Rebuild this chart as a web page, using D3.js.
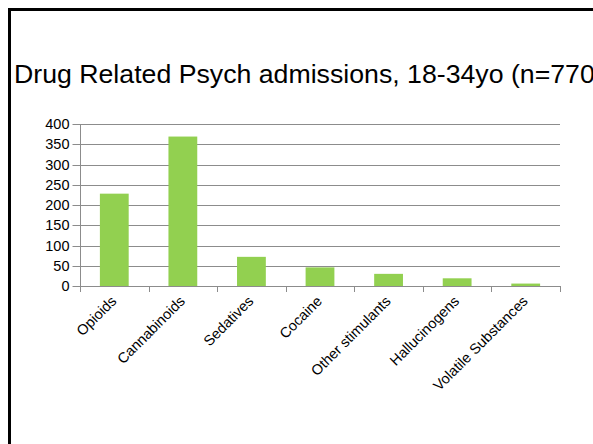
<!DOCTYPE html>
<html>
<head>
<meta charset="utf-8">
<script src="https://cdn.jsdelivr.net/npm/d3@7"></script>
<style>
  html, body { margin: 0; padding: 0; background: #fff; overflow: hidden; }
  svg { display: block; font-family: Arial, "Liberation Sans", sans-serif; }
</style>
</head>
<body>
<svg id="chart" width="593" height="444"></svg>
<script>
// Admissions by substance class
const categories = ["Opioids", "Cannabinoids", "Sedatives", "Cocaine", "Other stimulants", "Hallucinogens", "Volatile Substances"];
const admissions = [228, 369, 72, 46, 30, 19, 6];
const yTicks = [0, 50, 100, 150, 200, 250, 300, 350, 400];
const title = "Drug Related Psych admissions, 18-34yo (n=770)";

const svg = d3.select("#chart");
const labelSize = 14.5;

// Slide frame
svg.append("rect")
  .attr("x", 9.5).attr("y", 9.5)
  .attr("width", 700).attr("height", 600)
  .attr("fill", "none").attr("stroke", "#000").attr("stroke-width", 3);

svg.append("text")
  .attr("x", 14).attr("y", 83)
  .attr("font-size", 26.7)
  .attr("fill", "#000")
  .text(title);

const plot = { left: 80, right: 560, top: 124, bottom: 286 };

const x = d3.scaleBand().domain(categories).range([plot.left, plot.right]).paddingInner(0.58).paddingOuter(0.29);
const xBand = d3.scaleBand().domain(categories).range([plot.left, plot.right]);
const y = d3.scaleLinear().domain([0, 400]).range([plot.bottom, plot.top]);

// Horizontal gridlines
svg.append("g")
  .selectAll("line")
  .data(yTicks.filter(d => d > 0))
  .join("line")
  .attr("x1", plot.left).attr("x2", plot.right)
  .attr("y1", d => Math.round(y(d)) + 0.5).attr("y2", d => Math.round(y(d)) + 0.5)
  .attr("stroke", "#8c8c8c").attr("stroke-width", 1);

// Bars
svg.append("g")
  .selectAll("rect")
  .data(categories)
  .join("rect")
  .attr("x", d => x(d))
  .attr("width", x.bandwidth())
  .attr("y", (d, i) => y(admissions[i]))
  .attr("height", (d, i) => plot.bottom - y(admissions[i]))
  .attr("fill", "#92d050");

// Y axis
const yAxis = svg.append("g")
  .attr("transform", `translate(${plot.left + 0.5},0)`)
  .call(d3.axisLeft(y).tickValues(yTicks).tickSize(8).tickPadding(3));
yAxis.select(".domain").attr("stroke", "#8c8c8c").attr("d", `M0,${plot.top}V${plot.bottom}`);
yAxis.selectAll(".tick line").attr("stroke", "#8c8c8c");
yAxis.selectAll(".tick text").attr("font-size", labelSize).attr("fill", "#000").attr("font-family", "Arial, 'Liberation Sans', sans-serif");
yAxis.selectAll(".tick").attr("transform", d => `translate(0,${Math.round(y(d)) + 0.5})`);

// X axis: baseline and boundary ticks
const xg = svg.append("g");
xg.append("line")
  .attr("x1", plot.left).attr("x2", plot.right)
  .attr("y1", plot.bottom + 0.5).attr("y2", plot.bottom + 0.5)
  .attr("stroke", "#8c8c8c");
const bounds = categories.map(c => xBand(c)).concat([plot.right]);
xg.selectAll("line.tk")
  .data(bounds)
  .join("line")
  .attr("class", "tk")
  .attr("x1", d => Math.round(d) + 0.5).attr("x2", d => Math.round(d) + 0.5)
  .attr("y1", plot.bottom).attr("y2", plot.bottom + 6)
  .attr("stroke", "#8c8c8c");

// Rotated category labels
xg.selectAll("text")
  .data(categories)
  .join("text")
  .attr("transform", d => `translate(${xBand(d) + xBand.bandwidth() / 2 + 3},${plot.bottom + 16}) rotate(-45)`)
  .attr("text-anchor", "end")
  .attr("font-size", labelSize)
  .attr("fill", "#000")
  .text(d => d);
</script>
</body>
</html>
